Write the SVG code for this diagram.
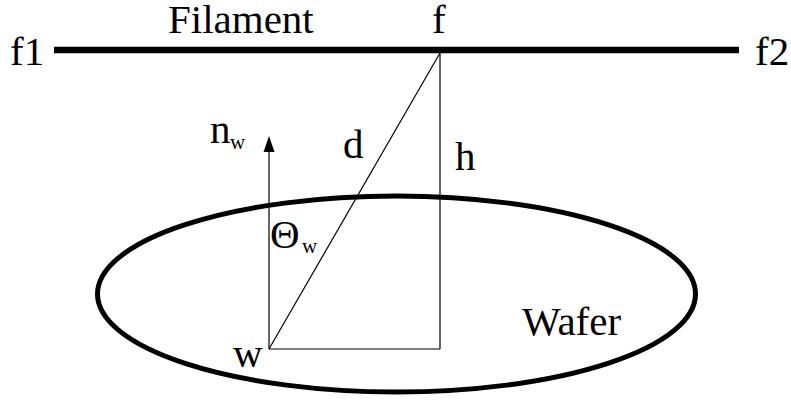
<svg xmlns="http://www.w3.org/2000/svg" width="791" height="400" viewBox="0 0 791 400">
<style>
text{font-family:'Liberation Serif','Times New Roman','DejaVu Serif',serif;fill:#000;font-size:41px}
.sub{font-size:21px}
.thin{stroke:#000;stroke-width:1.2;fill:none}
</style>
<rect width="791" height="400" fill="#fff"/>
<g id="filament">
<line x1="54" y1="50" x2="739" y2="50" stroke="#000" stroke-width="6.7"/>
<text x="168" y="33" font-size="42">Filament</text>
<text x="10" y="65">f1</text>
<text x="755" y="65">f2</text>
<text x="432" y="33">f</text>
</g>
<g id="wafer">
<ellipse cx="396.5" cy="294" rx="299" ry="98" fill="none" stroke="#000" stroke-width="5"/>
<text x="522" y="335">Wafer</text>
</g>
<g id="connectors">
<line class="thin" x1="440" y1="50" x2="440" y2="349"/>
<line class="thin" x1="269" y1="349" x2="440" y2="349"/>
<line class="thin" x1="269" y1="349" x2="440" y2="53"/>
<line class="thin" x1="269" y1="349" x2="269" y2="150"/>
<polygon points="269,136 263.5,152 274.5,152" fill="#000"/>
</g>
<g id="labels">
<text x="210" y="143">n</text><text class="sub" x="230" y="148.5">w</text>
<text x="343" y="158">d</text>
<text x="455" y="170">h</text>
<text x="270" y="248">Θ</text><text class="sub" x="302" y="253">w</text>
<text x="233" y="367">w</text>
</g>
</svg>
